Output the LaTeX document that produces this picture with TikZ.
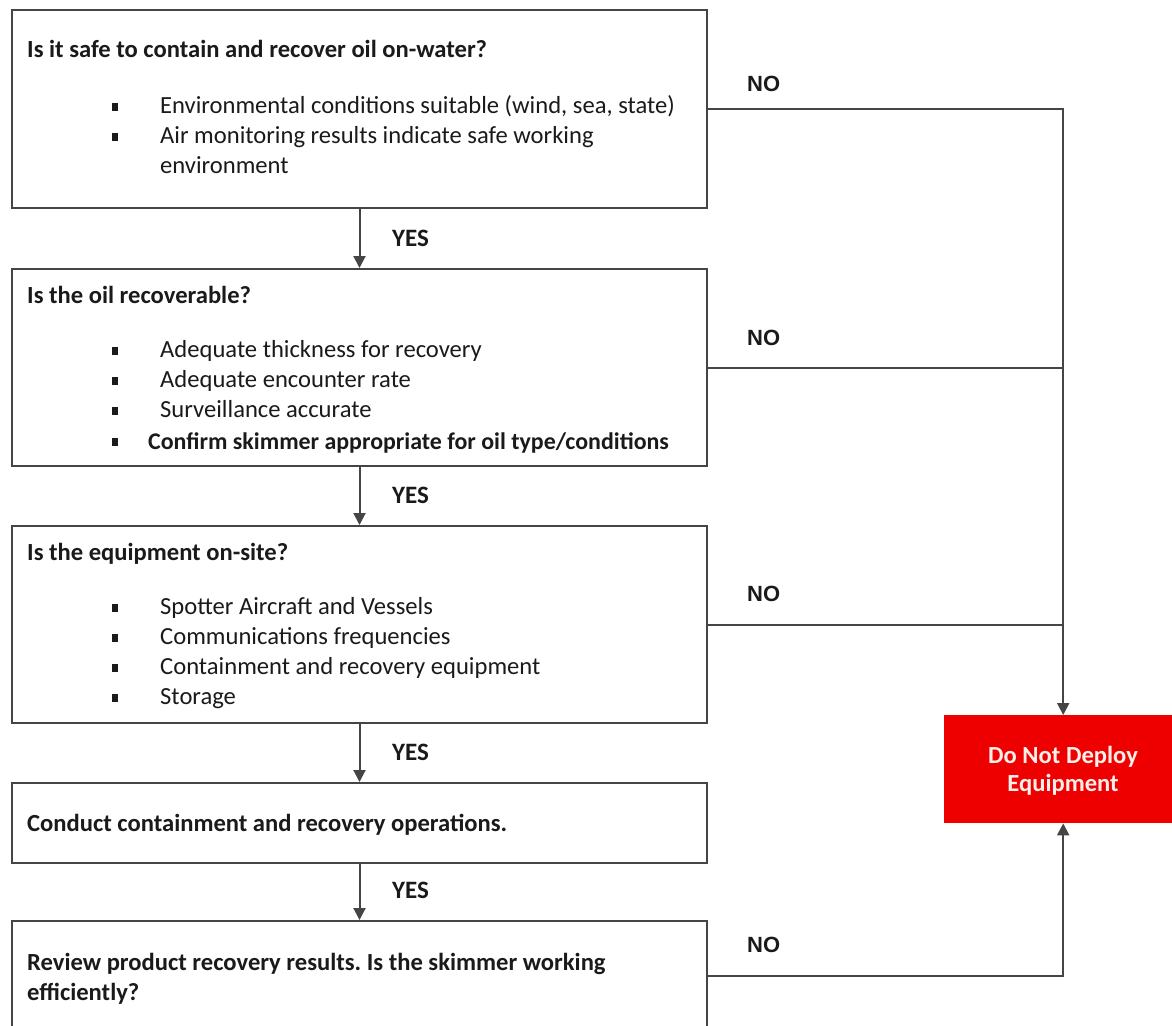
\documentclass[tikz,border=0pt]{standalone}
\usepackage{fontspec}
\setmainfont{Carlito}
\newfontfamily\labelfont{Liberation Sans}
\usetikzlibrary{arrows.meta}
\definecolor{linegray}{HTML}{454545}
\definecolor{inkc}{HTML}{1A1A1A}
\definecolor{stopred}{HTML}{EE0000}
\definecolor{stoptext}{HTML}{FCEFEA}
\frenchspacing
\begin{document}
\begin{tikzpicture}[x=1pt,y=-1pt,
  box/.style={draw=linegray, line width=2pt, rectangle, inner sep=0pt, anchor=north west, minimum width=695pt},
  title/.style={anchor=base west, inner sep=0pt, text=inkc, font=\fontsize{24.6}{30}\selectfont\bfseries},
  item/.style={anchor=base west, inner sep=0pt, text=inkc, font=\fontsize{24.6}{30}\selectfont},
  bolditem/.style={anchor=base west, inner sep=0pt, text=inkc, font=\fontsize{23.9}{30}\selectfont\bfseries},
  bul/.style={fill=inkc, minimum width=6.5pt, minimum height=7.5pt, inner sep=0pt},
  flow/.style={draw=linegray, line width=2pt, -{Triangle[length=12pt,width=12pt]}},
  link/.style={draw=linegray, line width=2pt},
  yes/.style={anchor=west, inner sep=0pt, text=inkc, font=\fontsize{25}{30}\selectfont\bfseries},
  no/.style={anchor=west, inner sep=0pt, text=inkc, font=\labelfont\fontsize{22}{26}\selectfont\bfseries}]
\clip (0,0) rectangle (1172,1025);
\fill[white] (0,0) rectangle (1172,1025);

% decision boxes
\node[box, minimum height=198pt] (b1) at (11,9) {};
\node[box, minimum height=197pt] (b2) at (11,268) {};
\node[box, minimum height=197pt] (b3) at (11,525) {};
\node[box, minimum height=80pt]  (b4) at (11,782) {};
\node[box, minimum height=110pt] (b5) at (11,920) {};

% terminal box
\node[fill=stopred, anchor=north west, minimum width=238pt, minimum height=108pt, inner sep=0pt] (stop) at (944,715) {};
\node[text=stoptext, align=center, inner sep=0pt, font=\fontsize{24.6}{28}\selectfont\bfseries] (stoptxt) at (1063,771) {Do Not Deploy\\Equipment};

% box 1
\node[title] (t1) at (27,57) {Is it safe to contain and recover oil on-water?};
\node[bul] (s11) at (115,107) {};
\node[item] (i11) at (160,113) {Environmental conditions suitable (wind, sea, state)};
\node[bul] (s12) at (115,137) {};
\node[item] (i12) at (160,143) {Air monitoring results indicate safe working};
\node[item] (i13) at (160,173) {environment};

% box 2
\node[title] (t2) at (27,303) {Is the oil recoverable?};
\node[bul] (s21) at (115,351) {};
\node[item] (i21) at (160,357) {Adequate thickness for recovery};
\node[bul] (s22) at (115,381) {};
\node[item] (i22) at (160,387) {Adequate encounter rate};
\node[bul] (s23) at (115,411) {};
\node[item] (i23) at (160,417) {Surveillance accurate};
\node[bul] (s24) at (115,442) {};
\node[bolditem] (i24) at (148,449) {Confirm skimmer appropriate for oil type/conditions};

% box 3
\node[title] (t3) at (27,560) {Is the equipment on-site?};
\node[bul] (s31) at (115,608) {};
\node[item] (i31) at (160,614) {Spotter Aircraft and Vessels};
\node[bul] (s32) at (115,638) {};
\node[item] (i32) at (160,644) {Communications frequencies};
\node[bul] (s33) at (115,668) {};
\node[item] (i33) at (160,674) {Containment and recovery equipment};
\node[bul] (s34) at (115,698) {};
\node[item] (i34) at (160,704) {Storage};

% box 4 and 5
\node[title] (t4) at (27,831) {Conduct containment and recovery operations.};
\node[title] (t5a) at (27,970) {Review product recovery results. Is the skimmer working};
\node[title] (t5b) at (27,1000) {efficiently?};

% YES path
\draw[flow] (b1.south) -- (b2.north);
\draw[flow] (b2.south) -- (b3.north);
\draw[flow] (b3.south) -- (b4.north);
\draw[flow] (b4.south) -- (b5.north);
\node[yes] (y1) at (392,238) {YES};
\node[yes] (y2) at (392,495) {YES};
\node[yes] (y3) at (392,752) {YES};
\node[yes] (y4) at (392,890) {YES};

% NO path
\draw[flow] (b1.east) -| (stop.north);
\draw[link] (b2.east) -- (b2.east -| stop.north);
\draw[link] (b3.east) -- (b3.east -| stop.north);
\draw[flow] (b5.east) -| (stop.south);
\node[no] (n1) at (747,84) {NO};
\node[no] (n2) at (747,338) {NO};
\node[no] (n3) at (747,594) {NO};
\node[no] (n4) at (747,945) {NO};
\end{tikzpicture}
\end{document}
